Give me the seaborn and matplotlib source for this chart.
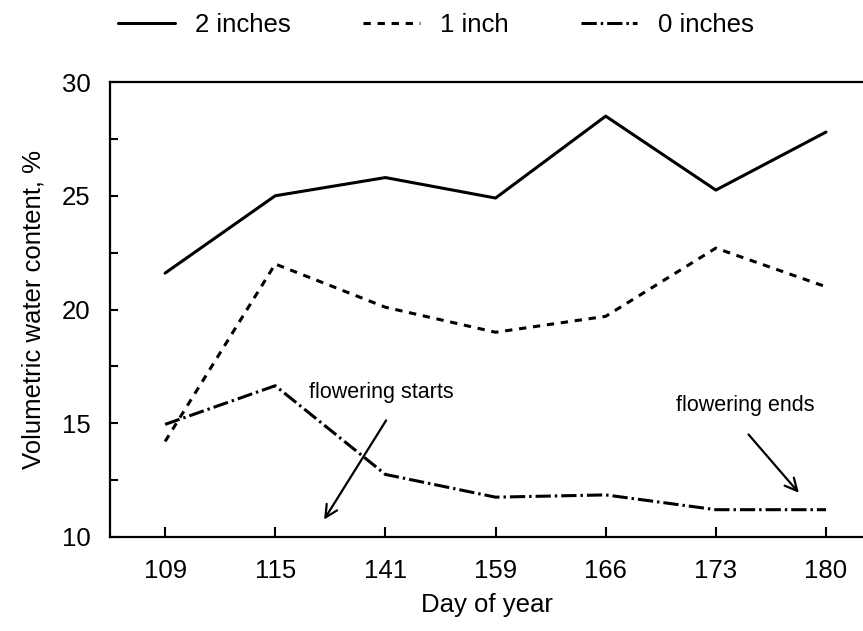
import numpy as np
import pandas as pd
import matplotlib
matplotlib.use("Agg")
import matplotlib.pyplot as plt
import matplotlib.ticker as mtick
import seaborn as sns

# Data
days = ["109", "115", "141", "159", "166", "173", "180"]
two_inches = [21.6, 25.0, 25.8, 24.9, 28.5, 25.25, 27.8]
one_inch = [14.2, 22.0, 20.1, 19.0, 19.7, 22.7, 21.0]
zero_inches = [14.95, 16.65, 12.75, 11.75, 11.85, 11.2, 11.2]
series_names = ["2 inches", "1 inch", "0 inches"]

df = pd.DataFrame({
    "day": days * 3,
    "vwc": two_inches + one_inch + zero_inches,
    "depth": np.repeat(series_names, len(days)),
})

sns.set_theme(style="white")
plt.rcParams["font.family"] = ["Liberation Sans", "DejaVu Sans"]
plt.rcParams.update({"text.color": "black", "axes.labelcolor": "black",
                     "xtick.color": "black", "ytick.color": "black"})

fig = plt.figure(figsize=(8.63, 6.31), dpi=100)
ax = fig.add_axes([0.1275, 0.149, 0.8725, 0.721])

dash_map = {"2 inches": "", "1 inch": (2.4, 2.2), "0 inches": (5, 1.3, 0.8, 1.3)}
sns.lineplot(data=df, x="day", y="vwc", style="depth", style_order=series_names,
             dashes=dash_map, color="black", lw=2.2, legend=False, ax=ax, sort=False)

ax.set_xlim(-0.5, 6.336)
ax.set_ylim(10, 30)
ax.yaxis.set_major_locator(mtick.MultipleLocator(5))
ax.yaxis.set_minor_locator(mtick.MultipleLocator(2.5))
ax.tick_params(axis="both", which="both", direction="in", color="black", width=1.5)
ax.tick_params(axis="x", length=7, pad=16, labelsize=18.5)
ax.tick_params(axis="y", which="major", length=6, pad=14, labelsize=18.5)
ax.tick_params(axis="y", which="minor", length=6)
ax.tick_params(axis="y", left=True, which="both")
ax.tick_params(axis="x", bottom=True)

for side in ["left", "bottom", "top"]:
    ax.spines[side].set_color("black")
    ax.spines[side].set_linewidth(1.6)
ax.spines["right"].set_visible(False)

ax.set_xlabel("Day of year", fontsize=18.5, labelpad=7)
ax.set_ylabel("Volumetric water content, %", fontsize=18.5, labelpad=12)

arrow = dict(arrowstyle="->", color="black", lw=1.6, mutation_scale=22)
ax.text(1.96, 16.37, "flowering starts", fontsize=15.5, ha="center", va="center")
ax.annotate("", xy=(1.43, 10.66), xytext=(2.02, 15.23), arrowprops=arrow)
ax.text(5.27, 15.8, "flowering ends", fontsize=15.5, ha="center", va="center")
ax.annotate("", xy=(5.77, 11.85), xytext=(5.28, 14.6), arrowprops=arrow)

handles = ax.lines[:3]
fig.legend(handles, series_names, loc="center", bbox_to_anchor=(436 / 863, 1 - 25 / 631),
           ncol=3, frameon=False, fontsize=18.5, handlelength=2.2, handletextpad=0.8,
           columnspacing=2.8, borderaxespad=0)

fig.savefig("out.png", dpi=100)
